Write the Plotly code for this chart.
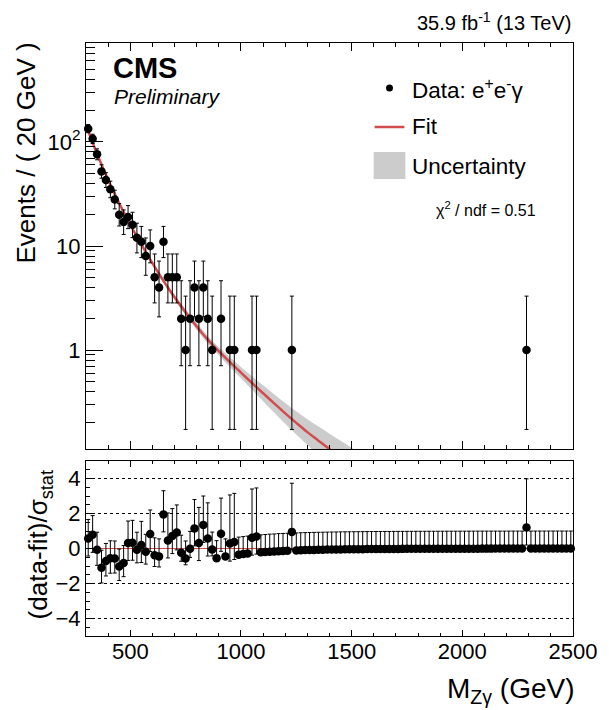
import plotly.graph_objects as go

# ---------------- data ----------------
bin_centers = list(range(310, 2500, 20))  # 20 GeV bins, 300-2500 GeV

counts = ([134, 107, 76, 52, 43, 35, 28, 20, 17, 19, 16, 12, 11, 8, 10, 5, 4, 11, 5, 5,
           5, 2, 1, 2, 4, 2, 4, 2, 1, 0, 2, 0, 1, 1, 0, 0, 0, 1, 1]
          + [0] * 7 + [1] + [0] * 52 + [1] + [0] * 10)

# asymmetric Poisson (Garwood) errors for the observed counts
err_lo_tab = {1: 0.827, 2: 1.292, 4: 1.914, 5: 2.160, 8: 2.768, 10: 3.109, 11: 3.266,
              12: 3.415, 16: 3.960, 17: 4.086, 19: 4.320, 20: 4.434, 28: 5.260, 35: 5.900,
              43: 6.550, 52: 7.200, 76: 8.700, 107: 10.35, 134: 11.55}
err_hi_tab = {1: 2.300, 2: 2.638, 4: 3.163, 5: 3.382, 8: 3.945, 10: 4.270, 11: 4.421,
              12: 4.564, 16: 5.083, 17: 5.200, 19: 5.440, 20: 5.546, 28: 6.330, 35: 6.950,
              43: 7.600, 52: 8.250, 76: 9.750, 107: 11.40, 134: 12.60}

# fit curve and uncertainty band
fit_mass = [300, 350, 400, 450, 500, 550, 600, 650, 700, 750, 800, 850, 900, 950, 1000,
            1050, 1100, 1150, 1200, 1250, 1300, 1350, 1400, 1450, 1500, 1550, 1600]
fit_vals = [144.5, 76.7, 43.2, 25.7, 16.0, 10.35, 6.84, 4.62, 3.22, 2.31, 1.69, 1.26,
            0.977, 0.766, 0.608, 0.483, 0.385, 0.308, 0.247, 0.200, 0.163, 0.135, 0.112,
            0.0944, 0.080, 0.0682, 0.0586]
band_lo = [138.0, 73.2, 41.3, 24.5, 15.3, 9.88, 6.53, 4.41, 3.04, 2.166, 1.570, 1.159,
           0.891, 0.6875, 0.536, 0.416, 0.323, 0.2515, 0.1962, 0.1545, 0.1225, 0.0987,
           0.0797, 0.0661, 0.0553, 0.0466, 0.0396]
band_hi = [151.3, 80.3, 45.2, 26.9, 16.75, 10.84, 7.16, 4.84, 3.41, 2.464, 1.819, 1.369,
           1.071, 0.8536, 0.690, 0.561, 0.459, 0.3772, 0.311, 0.2588, 0.2169, 0.1846,
           0.1575, 0.1349, 0.1156, 0.0997, 0.0867]

# pulls (data-fit)/sigma_stat per bin and their error bars
pulls = ([0.57, 0.78, -0.07, -1.10, -0.71, -0.56, -0.57, -1.03, -0.83, 0.32, 0.33, -0.07,
          0.20, -0.19, 0.83, -0.39, -0.45, 1.95, 0.46, 0.71, 0.92, -0.24, -0.57, -0.02,
          1.15, 0.31, 1.35, 0.57, -0.06, -0.55, 0.84, -0.45, 0.28, 0.37, -0.35, -0.32,
          -0.29, 0.62, 0.68]
         + [-0.22, -0.20, -0.18, -0.17, -0.15, -0.14, -0.13]
         + [0.95]
         + [-0.110, -0.100, -0.092, -0.085, -0.079, -0.073, -0.068, -0.063, -0.059, -0.055,
            -0.051, -0.048, -0.045, -0.042, -0.039, -0.036, -0.034, -0.032, -0.030, -0.028,
            -0.026, -0.025, -0.023, -0.022, -0.021, -0.019, -0.018, -0.017, -0.016, -0.015,
            -0.014, -0.014, -0.013, -0.012, -0.011, -0.011, -0.010, -0.010, -0.009, -0.009,
            -0.008, -0.008, -0.007, -0.007, -0.007, -0.006, -0.006, -0.006, -0.005, -0.005,
            -0.005, -0.005]
         + [1.20]
         + [-0.004, -0.004, -0.004, -0.004, -0.003, -0.003, -0.003, -0.003, -0.003, -0.003])
pull_err_hi = ([1.09, 1.10, 1, 1, 1, 1, 1, 1, 1, 1.25, 1.28, 1, 1.35, 1, 1.37, 1, 1, 1.35,
                1.57, 1.57, 1.57, 1, 1, 1, 1.65, 2.04, 1.65, 2.04, 1, 1, 2.04, 1, 2.78, 2.78,
                1, 1, 1, 2.78, 2.78]
               + [1] * 7 + [2.78] + [1] * 52 + [2.78] + [1] * 10)
pull_err_lo = ([1, 1, 0.89, 0.87, 0.86, 0.85, 0.83, 0.80, 0.78, 1, 1, 0.75, 1, 0.70, 1,
                0.64, 0.605, 1, 1, 1, 1, 0.49, 0.36, 0.49, 1, 1, 1, 1, 0.36, 0, 1, 0, 1, 1,
                0, 0, 0, 1, 1]
               + [0] * 7 + [1] + [0] * 52 + [1] + [0] * 10)

# ---------------- layout geometry ----------------
W, H = 609, 710
ML, MR, MT, MB = 86, 32, 43, 74
PW = W - ML - MR
PH = H - MT - MB


def px(x):
    return (x - ML) / PW


def py(y):
    return (H - MB - y) / PH


FONT = "Liberation Sans, Arial, Helvetica, sans-serif"
RED = "#d24b4f"
GRAY = "#cccccc"

top_x = [m for m, c in zip(bin_centers, counts) if c > 0]
top_y = [c for c in counts if c > 0]
top_eh = [err_hi_tab[c] for c in counts if c > 0]
top_el = [err_lo_tab[c] for c in counts if c > 0]

fig = go.Figure()

# uncertainty band
fig.add_trace(go.Scatter(x=fit_mass, y=band_lo, mode="lines", line=dict(width=0, shape="spline"),
                         hoverinfo="skip", showlegend=False, xaxis="x", yaxis="y"))
fig.add_trace(go.Scatter(x=fit_mass, y=band_hi, mode="lines", line=dict(width=0, shape="spline"),
                         fill="tonexty", fillcolor=GRAY, hoverinfo="skip", showlegend=False,
                         xaxis="x", yaxis="y"))
# fit
fig.add_trace(go.Scatter(x=fit_mass, y=fit_vals, mode="lines",
                         line=dict(color=RED, width=2.5, shape="spline"),
                         showlegend=False, xaxis="x", yaxis="y"))
# data
fig.add_trace(go.Scatter(x=top_x, y=top_y, mode="markers",
                         marker=dict(color="black", size=8.5),
                         error_y=dict(type="data", symmetric=False, array=top_eh,
                                      arrayminus=top_el, color="black", thickness=1, width=2),
                         cliponaxis=False, showlegend=False, xaxis="x", yaxis="y"))

# pulls
fig.add_trace(go.Scatter(x=bin_centers, y=pulls, mode="markers",
                         marker=dict(color="black", size=8.5),
                         error_y=dict(type="data", symmetric=False, array=pull_err_hi,
                                      arrayminus=pull_err_lo, color="black", thickness=1,
                                      width=2),
                         cliponaxis=False, showlegend=False, xaxis="x2", yaxis="y2"))

top_minor = [0.2, 0.3, 0.4, 0.5, 0.6, 0.7, 0.8, 0.9, 2, 3, 4, 5, 6, 7, 8, 9,
             20, 30, 40, 50, 60, 70, 80, 90, 200, 300, 400, 500, 600, 700, 800, 900]

tickfont = dict(family=FONT, size=22, color="black")

fig.update_layout(
    width=W, height=H,
    margin=dict(l=ML, r=MR, t=MT, b=MB),
    paper_bgcolor="white", plot_bgcolor="white",
    showlegend=False,
    font=dict(family=FONT, color="black"),
    xaxis=dict(domain=[0, 1], anchor="y", range=[300, 2500], showticklabels=False,
               ticks="inside", ticklen=8, tickwidth=1, tickcolor="black", dtick=500, tick0=0,
               minor=dict(ticks="inside", ticklen=4, dtick=100, tick0=0, tickcolor="black"),
               showline=True, linecolor="black", linewidth=1, mirror="allticks",
               showgrid=False, zeroline=False),
    yaxis=dict(domain=[(H - MB - 449) / PH, 1], anchor="x", type="log", range=[-0.95, 2.95],
               tickmode="array", tickvals=[1, 10, 100], ticktext=["1", "10", "10<sup>2</sup>"],
               ticks="inside", ticklen=17, tickwidth=1, tickcolor="black",
               minor=dict(ticks="inside", ticklen=9, tickmode="array", tickvals=top_minor,
                          tickcolor="black"),
               tickfont=tickfont, showline=True, linecolor="black", linewidth=1, mirror=True,
               showgrid=False, zeroline=False),
    xaxis2=dict(domain=[0, 1], anchor="y2", range=[300, 2500], matches="x",
                ticks="inside", ticklen=6, tickwidth=1, tickcolor="black", dtick=500, tick0=0,
                minor=dict(ticks="inside", ticklen=3, dtick=100, tick0=0, tickcolor="black"),
                tickfont=tickfont, ticklabelstandoff=-4,
                showline=True, linecolor="black", linewidth=1,
                mirror="allticks", showgrid=False, zeroline=False),
    yaxis2=dict(domain=[0, (H - MB - 461) / PH], anchor="x2", range=[-5, 5],
                tickmode="array", tickvals=[-4, -2, 0, 2, 4],
                ticks="inside", ticklen=7, tickwidth=1, tickcolor="black",
                minor=dict(ticks="inside", ticklen=4, dtick=0.5, tick0=0, tickcolor="black"),
                tickfont=tickfont, showline=True, linecolor="black", linewidth=1, mirror=True,
                showgrid=True, gridcolor="black", griddash="dot", gridwidth=1,
                zeroline=True, zerolinecolor=RED, zerolinewidth=1),
)

ann = []


def add_text(text, x, y, size, xanchor="left", yanchor="middle", angle=0):
    ann.append(dict(text=text, x=px(x), y=py(y), xref="paper", yref="paper",
                    xanchor=xanchor, yanchor=yanchor, showarrow=False, textangle=angle,
                    font=dict(family=FONT, size=size, color="black")))


add_text("35.9 fb<sup>-1</sup> (13 TeV)", 577, 22, 20, xanchor="right")
add_text("<b>CMS</b>", 111, 68, 29)
add_text("<i>Preliminary</i>", 112, 97, 21)
add_text("Data: e<sup>+</sup>e<sup>-</sup>γ", 413, 89, 22.5)
add_text("Fit", 413, 127, 22.5)
add_text("Uncertainty", 413, 166, 22.5)
add_text("χ<sup>2</sup> / ndf = 0.51", 437, 209, 16)
add_text("Events / ( 20 GeV )", 26, 153, 26, xanchor="center", angle=-90)
add_text("(data-fit)/σ<sub>stat</sub>", 39, 545, 26, xanchor="center", angle=-90)
add_text("M<sub>Zγ</sub> (GeV)", 581, 690, 28, xanchor="right")
fig.update_layout(annotations=ann)

shapes = [
    dict(type="circle", xref="paper", yref="paper", x0=px(388.5), x1=px(395.5),
         y0=py(91.5), y1=py(84.5), fillcolor="black", line=dict(width=0)),
    dict(type="line", xref="paper", yref="paper", x0=px(377), x1=px(407), y0=py(127),
         y1=py(127), line=dict(color=RED, width=2.5)),
    dict(type="rect", xref="paper", yref="paper", x0=px(376), x1=px(408), y0=py(179),
         y1=py(152), fillcolor=GRAY, line=dict(width=0)),
]
fig.update_layout(shapes=shapes)

fig.write_html("out.html",
               config={"displayModeBar": False, "staticPlot": True},
               post_script="document.body.style.margin='0';"
                           "document.body.style.overflow='hidden';")
